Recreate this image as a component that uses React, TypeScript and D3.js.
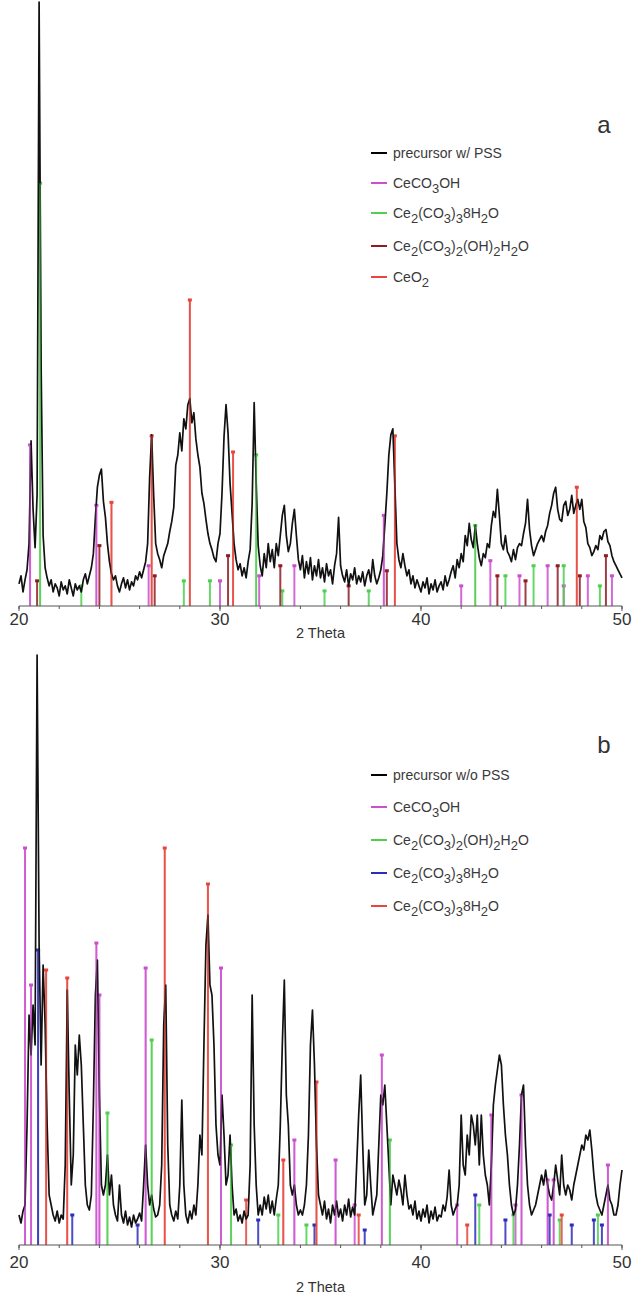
import React from 'react';
import * as d3 from 'd3';

// 2 theta grid of the traces: 20.0 .. 50.0, one value per 0.1 deg
const thetaStart = 20;
const thetaStep = 0.1;

// precursor w/ PSS (panel a), intensity in a.u.
const traceA: number[] = [
  22, 30, 14, 26, 36, 62, 164, 96, 58, 110,
  600, 240, 70, 38, 28, 20, 26, 14, 22, 18,
  10, 24, 16, 20, 12, 26, 18, 10, 22, 16,
  20, 14, 26, 32, 22, 30, 38, 52, 88, 118,
  130, 136, 104, 88, 62, 44, 32, 26, 30, 20,
  14, 22, 28, 18, 26, 16, 24, 20, 30, 26,
  34, 28, 36, 44, 62, 128, 170, 110, 62, 52,
  46, 38, 50, 56, 62, 74, 84, 98, 140, 150,
  172, 154, 186, 176, 200, 206, 182, 192, 166, 150,
  138, 112, 102, 86, 72, 62, 56, 48, 44, 62,
  72, 112, 168, 200, 172, 122, 92, 62, 46, 36,
  42, 30, 38, 28, 44, 56, 102, 202, 122, 60,
  40, 30, 52, 38, 62, 44, 56, 38, 62, 50,
  70, 90, 100, 70, 54, 62, 82, 96, 70, 46,
  36, 50, 28, 44, 32, 48, 26, 40, 30, 46,
  28, 38, 24, 42, 30, 36, 22, 40, 52, 88,
  40, 30, 24, 36, 20, 32, 26, 38, 22, 30,
  24, 34, 20, 30, 36, 24, 46, 30, 22, 28,
  36, 50, 80, 112, 150, 170, 176, 120, 62, 46,
  38, 52, 40, 30, 36, 22, 30, 18, 26, 20,
  14, 24, 18, 28, 12, 22, 16, 26, 14, 20,
  24, 16, 30, 20, 26, 34, 40, 28, 46, 38,
  52, 44, 70, 60, 82, 66, 58, 80, 62, 48,
  40, 52, 48, 62, 58, 80, 94, 88, 116, 90,
  62, 56, 70, 54, 50, 44, 56, 46, 58, 62,
  60, 72, 82, 106, 76, 60, 50, 56, 62, 66,
  70, 64, 74, 80, 92, 100, 112, 118, 96, 86,
  84, 100, 104, 90, 96, 110, 92, 100, 106, 96,
  106, 84, 78, 62, 58, 50, 54, 60, 56, 70,
  66, 74, 76, 64, 60, 50, 44, 40, 36, 32,
  28,
];

// precursor w/o PSS (panel b)
const traceB: number[] = [
  30, 22, 34, 40, 120, 230, 190, 240, 200, 590,
  300, 180, 280, 220, 120, 50, 40, 30, 24, 34,
  22, 30, 26, 80, 255, 150, 60, 90, 200, 170,
  210, 180, 120, 60, 40, 35, 50, 140, 250, 285,
  150, 60, 50, 60, 90, 50, 70, 40, 30, 24,
  60, 30, 22, 34, 20, 28, 18, 30, 22, 26,
  32, 24, 60, 100, 60, 40, 50, 36, 28, 30,
  40, 80, 220, 260, 100, 40, 30, 24, 34, 26,
  60, 145, 60, 30, 22, 34, 26, 40, 30, 60,
  110, 90, 200, 300, 330, 260, 250, 200, 120, 90,
  80, 150, 110, 60, 70, 110, 60, 30, 36, 24,
  30, 22, 34, 26, 30, 80, 250, 120, 60, 30,
  40, 30, 48, 36, 50, 32, 44, 30, 46, 60,
  120, 200, 265, 150, 120, 60, 50, 60, 40, 30,
  35, 30, 40, 60, 110, 200, 235, 180, 100, 50,
  40, 30, 44, 26, 36, 22, 40, 30, 44, 28,
  36, 24, 40, 30, 46, 28, 38, 30, 80, 130,
  170, 100, 40, 50, 95, 60, 30, 40, 50, 100,
  150, 140, 160, 120, 80, 40, 70, 60, 50, 65,
  55, 40, 70, 50, 36, 40, 30, 44, 26, 34,
  24, 36, 28, 40, 22, 34, 26, 38, 24, 30,
  28, 40, 34, 48, 75, 40, 30, 36, 40, 60,
  130, 80, 70, 110, 90, 130, 120, 100, 130, 80,
  130, 90, 70, 60, 40, 80, 140, 160, 175, 190,
  180, 140, 110, 90, 60, 40, 30, 35, 60, 100,
  150, 160, 100, 60, 40, 30, 35, 40, 50, 60,
  70, 60, 75, 60, 50, 45, 60, 80, 65, 50,
  90, 60, 50, 60, 55, 45, 60, 70, 80, 90,
  100, 95, 110, 105, 115, 95, 70, 50, 40, 35,
  30, 40, 50, 60, 45, 40, 30, 30, 40, 60,
  75,
];

// reference patterns, [2 theta, relative intensity]
const a_CeCO3OH: [number, number][] = [
  [20.55, 160], [23.85, 100], [26.45, 40], [30.0, 25], [31.95, 30], [33.7, 40],
  [38.15, 90], [42.0, 20], [43.45, 45], [44.9, 30], [46.3, 40], [47.1, 20],
  [48.3, 30], [49.5, 30],
];
const a_Ce2CO338H2O: [number, number][] = [
  [21.05, 420], [23.1, 20], [28.2, 25], [29.5, 25], [31.8, 150], [33.1, 15],
  [35.2, 15], [37.4, 15], [42.7, 80], [44.2, 30], [45.6, 40], [47.1, 40], [48.9, 20],
];
const a_Ce2CO32OH2H2O: [number, number][] = [
  [20.9, 25], [24.0, 60], [26.75, 30], [30.4, 50], [33.0, 40], [36.4, 20],
  [38.3, 35], [43.8, 30], [45.2, 25], [46.8, 40], [47.9, 30], [49.2, 50],
];
const a_CeO2: [number, number][] = [
  [24.6, 103], [26.6, 169], [28.5, 304], [30.65, 153], [38.7, 169], [47.75, 118],
];

const b_CeCO3OH: [number, number][] = [
  [20.3, 397], [20.6, 260], [23.85, 302], [24.0, 250], [26.3, 277], [30.05, 277],
  [33.7, 105], [35.75, 85], [36.7, 40], [38.05, 190], [41.8, 40], [43.5, 130],
  [44.7, 40], [45.0, 150], [46.3, 65], [46.6, 65], [49.3, 80],
];
const b_Ce2CO32OH2H2O: [number, number][] = [
  [24.4, 132], [26.6, 205], [30.55, 100], [32.9, 30], [34.3, 20], [38.45, 105],
  [42.9, 40], [44.6, 30], [46.9, 25], [48.8, 30],
];
const b_Ce2CO338H2O_blue: [number, number][] = [
  [20.95, 295], [22.65, 30], [25.9, 20], [31.9, 25], [34.7, 20], [37.2, 15],
  [42.7, 50], [44.2, 25], [46.4, 30], [47.5, 20], [48.6, 25], [49.0, 20],
];
const b_Ce2CO338H2O_red: [number, number][] = [
  [21.35, 275], [22.4, 267], [27.25, 397], [29.4, 361], [31.3, 45], [33.15, 85],
  [34.8, 163], [36.9, 30], [42.3, 20], [47.0, 30],
];

const xTicks = [20, 30, 40, 50];

const MAGENTA = '#cc4fd0';
const GREEN = '#4fcf4f';
const DARKRED = '#8e1c24';
const RED = '#e8453c';
const BLUE = '#2d2dbb';

type Seg = { t: string; sub?: boolean };
type LegendItem = { color: string; label: Seg[] };

const legendA: LegendItem[] = [
  { color: '#000', label: [{ t: 'precursor w/ PSS' }] },
  { color: MAGENTA, label: [{ t: 'CeCO' }, { t: '3', sub: true }, { t: 'OH' }] },
  { color: GREEN, label: [{ t: 'Ce' }, { t: '2', sub: true }, { t: '(CO' }, { t: '3', sub: true }, { t: ')' }, { t: '3', sub: true }, { t: '8H' }, { t: '2', sub: true }, { t: 'O' }] },
  { color: DARKRED, label: [{ t: 'Ce' }, { t: '2', sub: true }, { t: '(CO' }, { t: '3', sub: true }, { t: ')' }, { t: '2', sub: true }, { t: '(OH)' }, { t: '2', sub: true }, { t: 'H' }, { t: '2', sub: true }, { t: 'O' }] },
  { color: RED, label: [{ t: 'CeO' }, { t: '2', sub: true }] },
];
const legendB: LegendItem[] = [
  { color: '#000', label: [{ t: 'precursor w/o PSS' }] },
  { color: MAGENTA, label: [{ t: 'CeCO' }, { t: '3', sub: true }, { t: 'OH' }] },
  { color: GREEN, label: [{ t: 'Ce' }, { t: '2', sub: true }, { t: '(CO' }, { t: '3', sub: true }, { t: ')' }, { t: '2', sub: true }, { t: '(OH)' }, { t: '2', sub: true }, { t: 'H' }, { t: '2', sub: true }, { t: 'O' }] },
  { color: BLUE, label: [{ t: 'Ce' }, { t: '2', sub: true }, { t: '(CO' }, { t: '3', sub: true }, { t: ')' }, { t: '3', sub: true }, { t: '8H' }, { t: '2', sub: true }, { t: 'O' }] },
  { color: RED, label: [{ t: 'Ce' }, { t: '2', sub: true }, { t: '(CO' }, { t: '3', sub: true }, { t: ')' }, { t: '3', sub: true }, { t: '8H' }, { t: '2', sub: true }, { t: 'O' }] },
];

const FONT = 'Liberation Sans, Arial, sans-serif';

const x = d3.scaleLinear().domain([20, 50]).range([19, 622]);

function Label({ segs, xPos, yPos }: { segs: Seg[]; xPos: number; yPos: number }) {
  let shifted = false;
  return (
    <text x={xPos} y={yPos} fontFamily={FONT} fontSize={14} fill="#3a3a3a">
      {segs.map((s, i) => {
        let dy = 0;
        if (s.sub && !shifted) { dy = 5; shifted = true; }
        else if (!s.sub && shifted) { dy = -5; shifted = false; }
        return (
          <tspan key={i} dy={dy} fontSize={s.sub ? 13 : 14}>{s.t}</tspan>
        );
      })}
    </text>
  );
}

function Panel({ trace, sticks, legend, letter, base, top, legendY, tickDy, titleDy }: {
  trace: number[];
  sticks: { data: [number, number][]; color: string }[];
  legend: LegendItem[];
  letter: string;
  base: number;
  top: number;
  legendY: number[];
  tickDy: number;
  titleDy: number;
}) {
  const y = d3.scaleLinear().domain([0, 600]).range([base, top]);
  const line = d3.line<number>()
    .x((_, i) => x(thetaStart + i * thetaStep))
    .y(d => y(d));
  const minor = d3.range(20, 50.01, 2);
  return (
    <g>
      {sticks.map((s, k) => (
        <g key={k}>
          {s.data.map(([t, h], i) => (
            <g key={i}>
              <line x1={x(t)} x2={x(t)} y1={y(0)} y2={y(h)} stroke={s.color} strokeWidth={2} strokeOpacity={0.85} />
              <rect x={x(t) - 2} y={y(h) - 1.5} width={4} height={3} fill={s.color} />
            </g>
          ))}
        </g>
      ))}
      <path d={line(trace) || ''} fill="none" stroke="#111" strokeWidth={1.7} strokeLinejoin="round" />
      {sticks.map((s, k) => (
        <g key={'o' + k} opacity={0.55}>
          {s.data.filter(([, h]) => h > 60).map(([t, h], i) => (
            <line key={i} x1={x(t)} x2={x(t)} y1={y(0)} y2={y(h)} stroke={s.color} strokeWidth={1.5} />
          ))}
        </g>
      ))}
      {/* x axis */}
      <line x1={x(20)} x2={x(50)} y1={base} y2={base} stroke="#555" strokeWidth={1} />
      {minor.map(t => (
        <line key={'m' + t} x1={x(t)} x2={x(t)} y1={base} y2={base + 3} stroke="#555" strokeWidth={1} />
      ))}
      {xTicks.map(t => (
        <g key={t}>
          <line x1={x(t)} x2={x(t)} y1={base} y2={base + 5} stroke="#555" strokeWidth={1} />
          <text x={x(t)} y={base + tickDy} textAnchor="middle" fontFamily={FONT} fontSize={17} fill="#333">{t}</text>
        </g>
      ))}
      <text x={x(35)} y={base + titleDy} textAnchor="middle" fontFamily={FONT} fontSize={14.5} fill="#333">2 Theta</text>
      <text x={604} y={legendY[0] - 22} textAnchor="middle" fontFamily={FONT} fontSize={24} fill="#333">{letter}</text>
      {legend.map((it, i) => (
        <g key={i}>
          <line x1={371} x2={387} y1={legendY[i + 1]} y2={legendY[i + 1]} stroke={it.color} strokeWidth={2} />
          <Label segs={it.label} xPos={393} yPos={legendY[i + 1] + 5} />
        </g>
      ))}
    </g>
  );
}

export default function App() {
  return (
    <svg width={636} height={1301} style={{ position: 'absolute', left: 0, top: 0, background: '#fff' }}>
      <Panel
        trace={traceA}
        sticks={[
          { data: a_CeCO3OH, color: MAGENTA },
          { data: a_Ce2CO338H2O, color: GREEN },
          { data: a_Ce2CO32OH2H2O, color: DARKRED },
          { data: a_CeO2, color: RED },
        ]}
        legend={legendA}
        letter="a"
        base={606}
        top={2}
        legendY={[155, 153, 183, 213, 246, 277]}
        tickDy={19}
        titleDy={32}
      />
      <Panel
        trace={traceB}
        sticks={[
          { data: b_CeCO3OH, color: MAGENTA },
          { data: b_Ce2CO32OH2H2O, color: GREEN },
          { data: b_Ce2CO338H2O_blue, color: BLUE },
          { data: b_Ce2CO338H2O_red, color: RED },
        ]}
        legend={legendB}
        letter="b"
        base={1245}
        top={645}
        legendY={[775, 775, 807, 840, 873, 906]}
        tickDy={23}
        titleDy={47}
      />
    </svg>
  );
}
